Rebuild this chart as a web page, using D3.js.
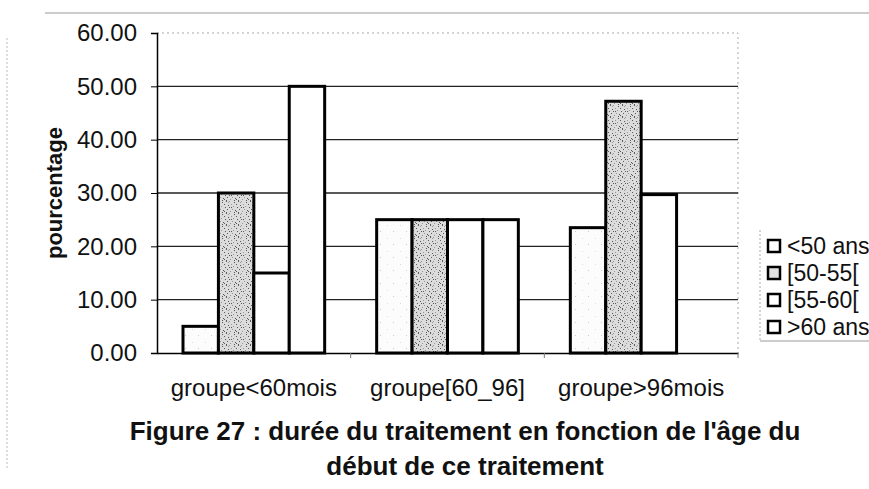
<!DOCTYPE html>
<head>
  <meta charset="utf-8">
  <script src="https://d3js.org/d3.v7.min.js"></script>
  <style>
body { margin: 0; background: white; }
svg { display: block; background-color: white; }
text { font-family: 'Liberation Sans', Arial, sans-serif; fill: #111; }
  </style>
</head>
<body>
<svg width="869" height="489"></svg>

<script>
// data
var groups = ["groupe<60mois", "groupe[60_96]", "groupe>96mois"];
var series = ["<50 ans", "[50-55[", "[55-60[", ">60 ans"];
var serie1 = [5, 25, 23.5];
var serie2 = [30, 25, 47.2];
var serie3 = [15, 25, 29.7];
var serie4 = [50, 25, 0];
var yTicks = [0, 10, 20, 30, 40, 50, 60];
var titleLines = ["Figure 27 : durée du traitement en fonction de l'âge du", "début de ce traitement"];

var values = [serie1, serie2, serie3, serie4];
var fills = ["url(#light)", "url(#stipple)", "white", "white"];

var margin = {top: 33, left: 157, right: 131, bottom: 136};
var width = 869 - margin.left - margin.right;
var height = 489 - margin.top - margin.bottom;

var svg = d3.select("svg");

// speckle textures (fixed dot layout, just a look-alike of the scan)
var defs = svg.append("defs");
var st = defs.append("pattern").attr("id", "stipple").attr("patternUnits", "userSpaceOnUse")
    .attr("width", 12).attr("height", 12);
st.append("rect").attr("width", 12).attr("height", 12).attr("fill", "#dcdcdc");
[[0,0],[5,1],[9,0],[2,3],[7,3],[11,4],[4,5],[0,6],[8,6],[3,8],[10,8],[6,9],
 [1,10],[9,11],[5,11],[11,1],[2,6],[7,10]].forEach(function(p, i) {
  st.append("rect").attr("x", p[0]).attr("y", p[1]).attr("width", 1).attr("height", 1)
    .attr("fill", i % 3 ? "#5a5a5a" : "#999");
});
var lt = defs.append("pattern").attr("id", "light").attr("patternUnits", "userSpaceOnUse")
    .attr("width", 13).attr("height", 13);
lt.append("rect").attr("width", 13).attr("height", 13).attr("fill", "#fcfcfc");
lt.append("rect").attr("x", 2).attr("y", 3).attr("width", 1).attr("height", 1).attr("fill", "#ccc");
lt.append("rect").attr("x", 9).attr("y", 10).attr("width", 1).attr("height", 1).attr("fill", "#ddd");

// faint frame left by the scan
svg.append("line").attr("x1", 45).attr("x2", 869).attr("y1", 13).attr("y2", 13)
    .attr("stroke", "#999").attr("stroke-width", 1);
svg.append("line").attr("x1", 7).attr("x2", 7).attr("y1", 38).attr("y2", 470)
    .attr("stroke", "#bbb").attr("stroke-width", 1).attr("stroke-dasharray", "2,2");

var g = svg.append("g").attr("transform", "translate(" + margin.left + "," + margin.top + ")");

var y = d3.scaleLinear().domain([0, 60]).range([height, 0]);
var x0 = d3.scaleBand().domain(groups).range([0, width]);
var x1 = d3.scaleBand().domain(series).range([26, x0.bandwidth() - 26]);

// plot area border (dotted, top and right)
g.append("path").attr("d", "M0,0H" + width + "V" + height)
    .attr("fill", "none").attr("stroke", "#aaa").attr("stroke-dasharray", "2,3");

// gridlines
g.selectAll(".grid").data(yTicks.filter(function(d) { return d > 0 && d < 60; }))
  .enter().append("line")
    .attr("x1", 0).attr("x2", width)
    .attr("y1", function(d) { return y(d); }).attr("y2", function(d) { return y(d); })
    .attr("stroke", "#222").attr("stroke-width", 1.4);

// bars
var bars = [];
groups.forEach(function(gr, i) {
  series.forEach(function(s, j) {
    bars.push({group: gr, serie: s, idx: j, value: values[j][i]});
  });
});

g.selectAll(".bar").data(bars.filter(function(d) { return d.value > 0; }))
  .enter().append("rect")
    .attr("x", function(d) { return x0(d.group) + x1(d.serie); })
    .attr("y", function(d) { return y(d.value); })
    .attr("width", x1.bandwidth())
    .attr("height", function(d) { return height - y(d.value); })
    .attr("fill", function(d) { return fills[d.idx]; })
    .attr("stroke", "#000").attr("stroke-width", 3);

// y axis
var yAxis = g.append("g").call(d3.axisLeft(y).tickValues(yTicks).tickFormat(d3.format(".2f"))
    .tickSize(6).tickPadding(14));
yAxis.select(".domain").attr("stroke", "#000").attr("stroke-width", 1.5);
yAxis.selectAll("text").style("font-size", "24px").attr("fill", "#111");

// x axis
var xAxis = g.append("g").attr("transform", "translate(0," + height + ")")
    .call(d3.axisBottom(x0).tickSize(0).tickPadding(26));
xAxis.select(".domain").attr("stroke", "#000").attr("stroke-width", 1.5);
xAxis.selectAll("text").style("font-size", "24px").attr("fill", "#111");
g.selectAll(".xt").data(groups).enter().append("line")
    .attr("x1", function(d) { return x0(d) + x0.bandwidth(); })
    .attr("x2", function(d) { return x0(d) + x0.bandwidth(); })
    .attr("y1", height).attr("y2", height + 5)
    .attr("stroke", "#777").attr("stroke-width", 1);

// y label
svg.append("text")
    .attr("transform", "translate(62,193) rotate(-90)")
    .attr("text-anchor", "middle")
    .style("font-size", "22px").style("font-weight", "bold")
    .text("pourcentage");

// legend
var lg = svg.append("g").attr("transform", "translate(760,0)");
lg.append("path").attr("d", "M0,341H109")
    .attr("fill", "none").attr("stroke", "#999").attr("stroke-width", 1);
lg.append("path").attr("d", "M0,230V341")
    .attr("fill", "none").attr("stroke", "#aaa").attr("stroke-dasharray", "2,2");
var items = lg.selectAll(".item").data(series).enter().append("g")
    .attr("transform", function(d, i) { return "translate(0," + (246 + i * 27) + ")"; });
items.append("rect").attr("x", 8).attr("y", -6).attr("width", 12).attr("height", 12)
    .attr("fill", function(d, i) { return i == 1 ? "#e0e0e0" : "white"; })
    .attr("stroke", "#000").attr("stroke-width", 2.5);
items.append("text").attr("x", 27).attr("dy", "0.36em")
    .style("font-size", "23px").text(function(d) { return d; });

// title
svg.selectAll(".title").data(titleLines).enter().append("text")
    .attr("x", 465).attr("y", function(d, i) { return 440 + i * 35; })
    .attr("text-anchor", "middle")
    .style("font-size", "26px").style("font-weight", "bold")
    .text(function(d) { return d; });
</script>
</body>
</html>
